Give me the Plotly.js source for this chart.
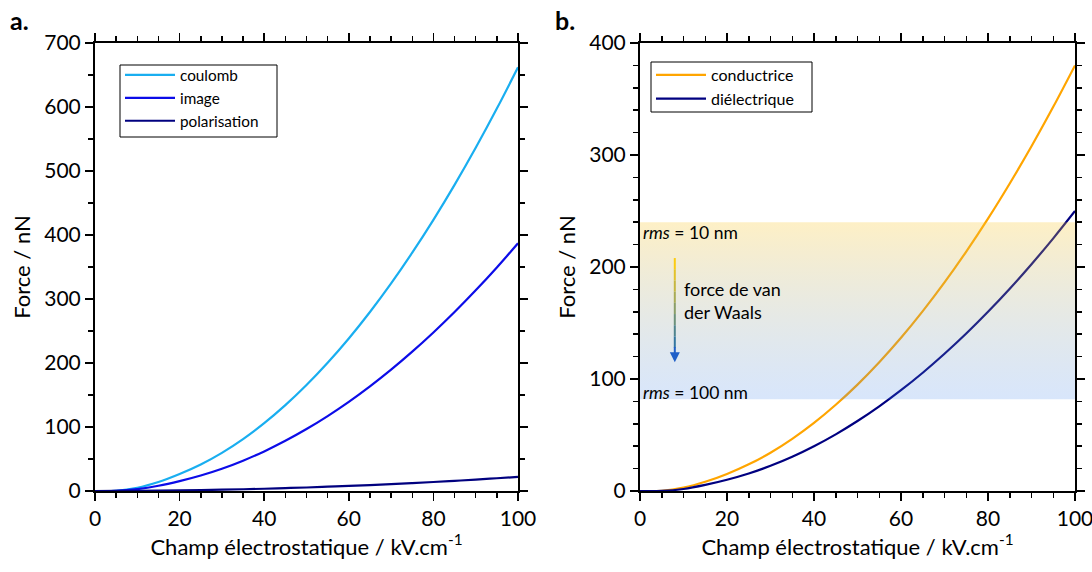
<!DOCTYPE html>
<html><head><meta charset="utf-8">
<script src="https://cdn.plot.ly/plotly-3.0.1.min.js"></script>
<style>body{margin:0;background:#fff}#chart{width:1092px;height:572px}</style>
</head><body><div id="chart"></div>
<script>
// Champ électrostatique (kV/cm)
const champ = [0,5,10,15,20,25,30,35,40,45,50,55,60,65,70,75,80,85,90,95,100];
// panel a
const coulomb = [0,0.4,5,14,26.5,41.4,59.6,81.1,105.9,134.1,165.5,200.3,238.3,279.7,324.4,372.4,423.7,478.3,536.2,597.5,662];
const image = [0,0.2,3,8.2,15.5,24.2,34.8,47.4,61.9,78.4,96.8,117.1,139.3,163.5,189.6,217.7,247.7,279.6,313.5,349.3,387];
const polarisation = [0,0.05,0.2,0.5,0.9,1.4,2,2.7,3.5,4.5,5.5,6.7,7.9,9.3,10.8,12.4,14.1,15.9,17.8,19.9,22];
// panel b
const conductrice = [0,0.2,3,8.2,15.2,23.8,34.2,46.6,60.8,77,95,115,136.8,160.6,186.2,213.8,243.2,274.6,307.8,343,380];
const dielectrique = [0,0.1,1.8,5.4,10,15.6,22.5,30.6,40,50.6,62.5,75.6,90,105.6,122.5,140.6,160,180.6,202.5,225.6,250];
// van der Waals band (rms 100 nm -> rms 10 nm)
const bandLow = 82, bandHigh = 240;
const bandX = [0,100,100,0];
const bandY = [bandLow,bandLow,bandHigh,bandHigh];
// arrow (force de van der Waals), top -> bottom
const arrowX = 8, arrowTop = 208, arrowBottom = 115;
const arrowColors = ['#fbcc12','#e2c22a','#c6b740','#a8ab55','#8a9e68','#6c917a','#4f838d','#3376a0','#1f66c0'];

const FONT = 'Lato, "Open Sans", sans-serif';
const lw = 2.2;
const traces = [
  {x:champ,y:coulomb,name:'coulomb',mode:'lines',line:{color:'#19aef0',width:lw,shape:'spline'},xaxis:'x',yaxis:'y',legend:'legend'},
  {x:champ,y:image,name:'image',mode:'lines',line:{color:'#0c0ce8',width:lw,shape:'spline'},xaxis:'x',yaxis:'y',legend:'legend'},
  {x:champ,y:polarisation,name:'polarisation',mode:'lines',line:{color:'#00007f',width:lw,shape:'spline'},xaxis:'x',yaxis:'y',legend:'legend'},
  {x:champ,y:conductrice,name:'conductrice',mode:'lines',line:{color:'#ffa500',width:lw,shape:'spline'},xaxis:'x2',yaxis:'y2',legend:'legend2'},
  {x:champ,y:dielectrique,name:'diélectrique',mode:'lines',line:{color:'#000080',width:lw,shape:'spline'},xaxis:'x2',yaxis:'y2',legend:'legend2'},
  {x:bandX,y:bandY,mode:'lines',fill:'toself',line:{width:0,color:'rgba(0,0,0,0)'},showlegend:false,hoverinfo:'skip',
   fillgradient:{type:'vertical',colorscale:[[0,'rgba(60,130,235,0.2)'],[1,'rgba(250,200,50,0.28)']]},xaxis:'x2',yaxis:'y2'}
];

function xax(domain){
  return {domain:domain,range:[0,100],showline:true,linewidth:2,linecolor:'#000',mirror:'ticks',
    ticks:'outside',ticklen:8,tickwidth:1.5,tickcolor:'#000',dtick:20,tick0:0,ticklabeloverflow:'allow',
    minor:{ticks:'outside',ticklen:5,tickwidth:1.5,tickcolor:'#000',dtick:5,showgrid:false},
    showgrid:false,zeroline:false,tickfont:{size:21,family:FONT,color:'#000'},
    title:{text:'Champ électrostatique / kV.cm<sup>-1</sup>',font:{size:22,family:FONT,color:'#000'},standoff:10}};
}
function yax(domain,range,dtick,mdtick,anchor){
  return {domain:domain,range:range,anchor:anchor,showline:true,linewidth:2,linecolor:'#000',mirror:'ticks',
    ticks:'outside',ticklen:8,tickwidth:1.5,tickcolor:'#000',dtick:dtick,tick0:0,ticklabeloverflow:'allow',
    minor:{ticks:'outside',ticklen:5,tickwidth:1.5,tickcolor:'#000',dtick:mdtick,showgrid:false},
    showgrid:false,zeroline:false,tickfont:{size:21,family:FONT,color:'#000'},
    title:{text:'Force / nN',font:{size:22,family:FONT,color:'#000'},standoff:8}};
}
const yd = [(572-491)/572,(572-43)/572];
const arrowShapes = [];
const nSeg = arrowColors.length;
const arrowEnd = 128;
for (let i=0;i<nSeg-1;i++){
  const y0 = arrowTop + (arrowEnd-arrowTop)*i/(nSeg-1);
  const y1 = arrowTop + (arrowEnd-arrowTop)*(i+1)/(nSeg-1);
  arrowShapes.push({type:'line',xref:'x2',yref:'y2',x0:arrowX,x1:arrowX,y0:y0,y1:y1,line:{color:arrowColors[i],width:2}});
}
const P = (px,py)=>({x:px/1092,y:1-py/572});
const legendBoxes = [
  {type:'rect',xref:'paper',yref:'paper',x0:P(120,0).x,x1:P(277,0).x,y0:P(0,65).y,y1:P(0,137).y,line:{color:'#000',width:1},fillcolor:'#fff',layer:'above'},
  {type:'rect',xref:'paper',yref:'paper',x0:P(651,0).x,x1:P(812,0).x,y0:P(0,62).y,y1:P(0,112).y,line:{color:'#000',width:1},fillcolor:'#fff',layer:'above'}
];
const layout = {
  width:1092,height:572,margin:{l:0,r:0,t:0,b:0},paper_bgcolor:'#fff',plot_bgcolor:'#fff',
  font:{family:FONT,color:'#000'},
  xaxis:Object.assign(xax([95/1092,518/1092]),{anchor:'y'}),
  yaxis:yax(yd,[0,700],100,50,'x'),
  xaxis2:Object.assign(xax([640/1092,1075/1092]),{anchor:'y2'}),
  yaxis2:yax(yd,[0,400],100,20,'x2'),
  legend:{x:P(120,0).x,y:P(0,58.5).y,xanchor:'left',yanchor:'top',borderwidth:0,bgcolor:'rgba(0,0,0,0)',
    font:{size:15.3,family:FONT,color:'#000'},itemwidth:50},
  legend2:{x:P(651,0).x,y:P(0,58).y,xanchor:'left',yanchor:'top',borderwidth:0,bgcolor:'rgba(0,0,0,0)',
    font:{size:16,family:FONT,color:'#000'},itemwidth:50},
  annotations:[
    {xref:'paper',yref:'paper',x:8/1092,y:1-20/572,text:'<b>a.</b>',showarrow:false,xanchor:'left',yanchor:'middle',font:{size:25,family:FONT}},
    {xref:'paper',yref:'paper',x:553/1092,y:1-20/572,text:'<b>b.</b>',showarrow:false,xanchor:'left',yanchor:'middle',font:{size:25,family:FONT}},
    {xref:'x2',yref:'y2',x:0.3,y:231,text:'<i>rms</i> = 10 nm',showarrow:false,xanchor:'left',yanchor:'middle',font:{size:17.5,family:FONT}},
    {xref:'x2',yref:'y2',x:0.3,y:88,text:'<i>rms</i> = 100 nm',showarrow:false,xanchor:'left',yanchor:'middle',font:{size:17.5,family:FONT}},
    {xref:'x2',yref:'y2',x:9.6,y:170,text:'force de van<br>der Waals',showarrow:false,xanchor:'left',yanchor:'middle',align:'left',font:{size:18,family:FONT}},
    {xref:'x2',yref:'y2',x:arrowX,y:arrowBottom,ax:arrowX,ay:arrowEnd+2,axref:'x2',ayref:'y2',text:'',showarrow:true,arrowhead:2,arrowsize:1,arrowwidth:2,arrowcolor:'#1f5fc8'}
  ],
  shapes:arrowShapes.concat(legendBoxes)
};
Plotly.newPlot('chart',traces,layout,{staticPlot:true});
</script></body></html>
